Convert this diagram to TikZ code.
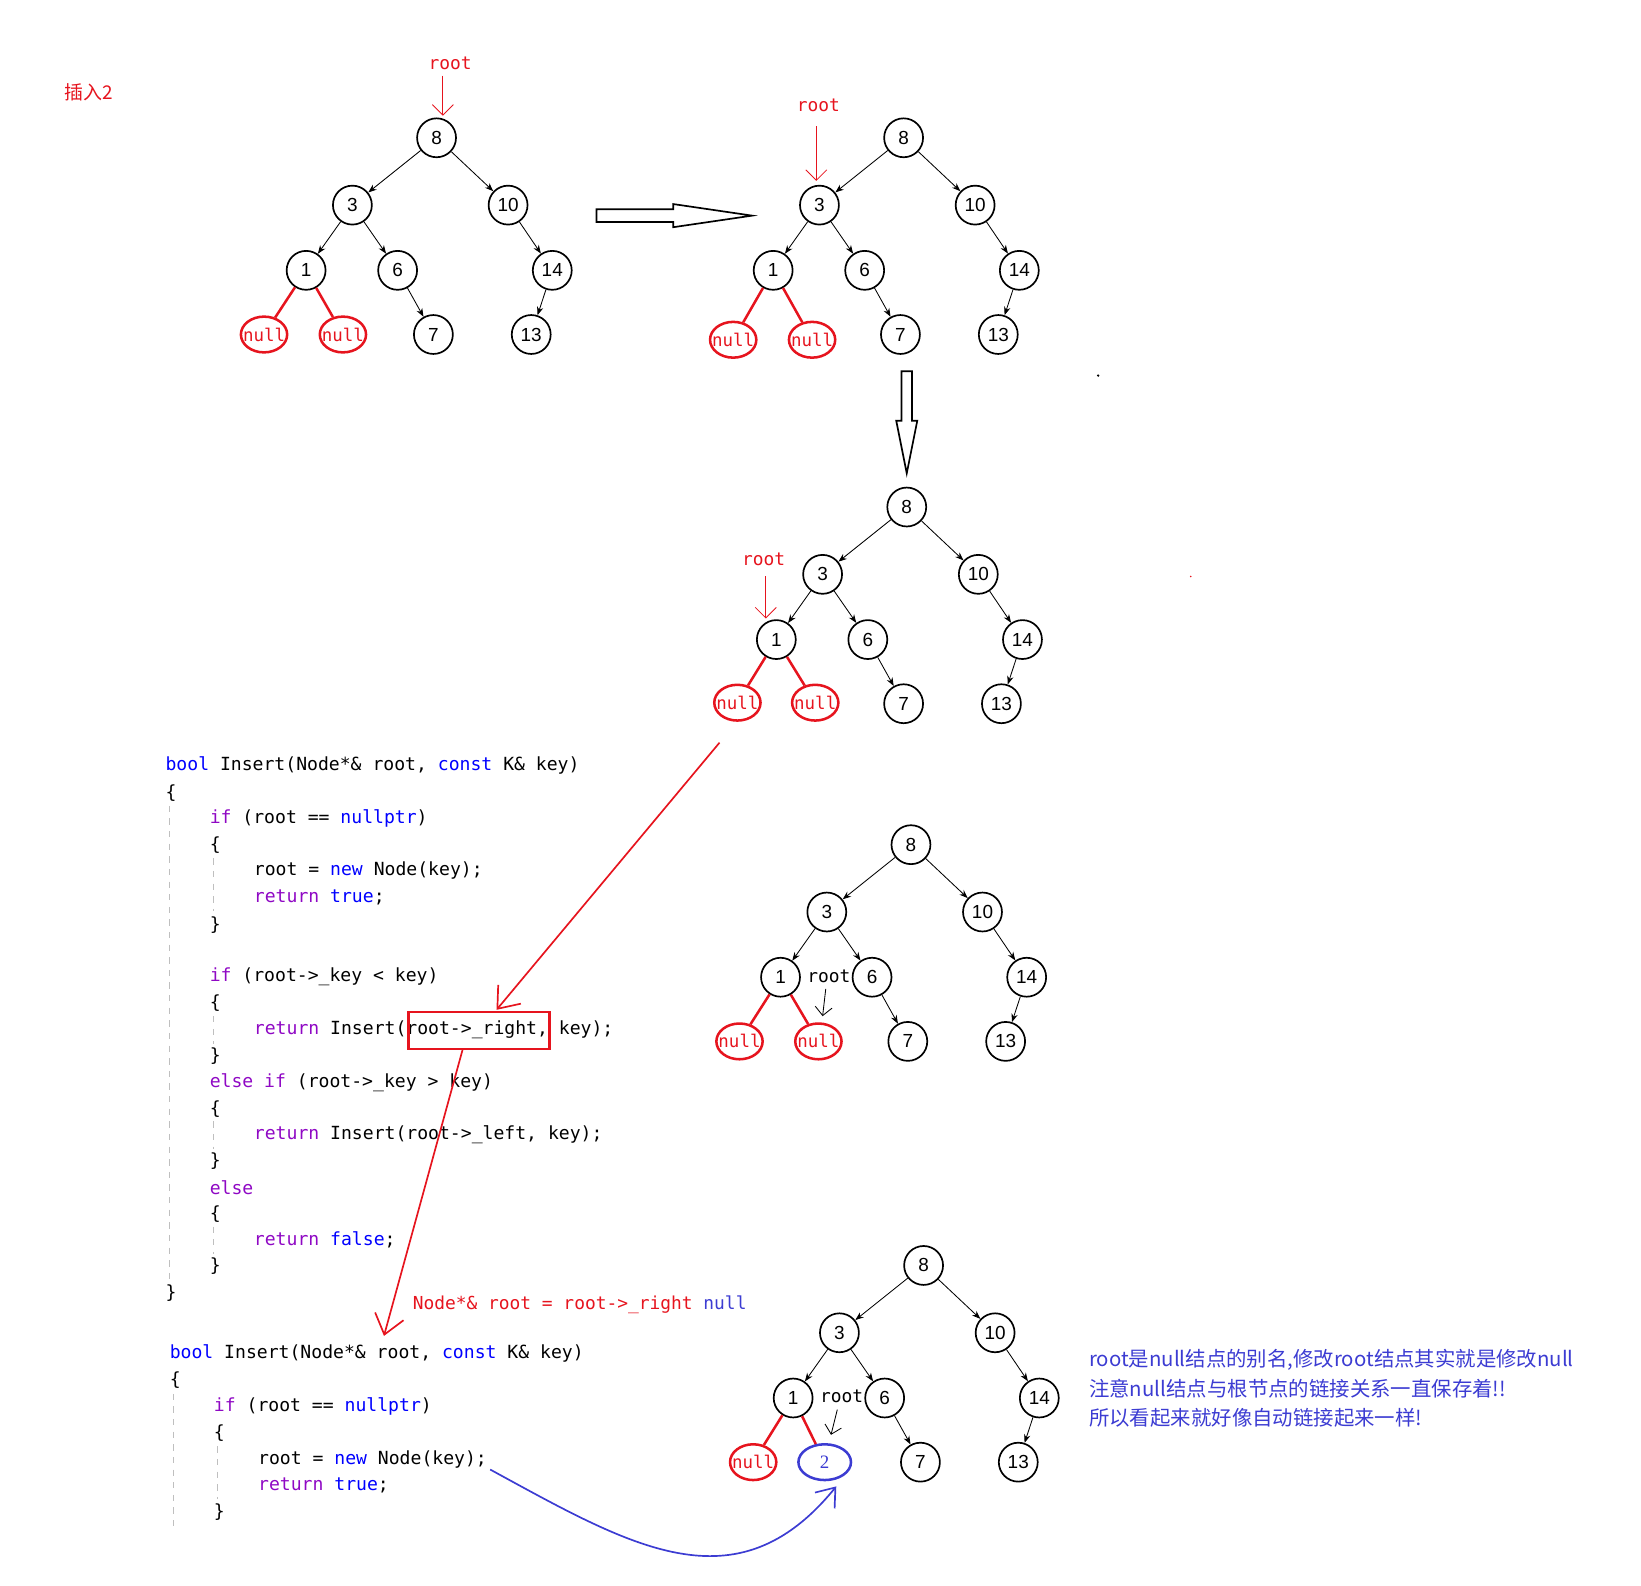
\documentclass[tikz,border=0pt]{standalone}
\usepackage{fontspec}
\setmainfont{Liberation Serif}
\setsansfont{Liberation Sans}
\setmonofont{DejaVu Sans Mono}
\newfontfamily\cjk{Noto Sans CJK SC}
\usetikzlibrary{arrows.meta,shapes.geometric}
\definecolor{kwb}{RGB}{0,0,255}
\definecolor{kwp}{RGB}{143,8,196}
\definecolor{rd}{RGB}{230,20,30}
\definecolor{bl}{RGB}{60,60,210}
\newcommand{\kb}[1]{\textcolor{kwb}{#1}}
\newcommand{\kp}[1]{\textcolor{kwp}{#1}}
\tikzset{x=0.5pt,y=-0.5pt,
 tn/.style={circle,draw,thick,minimum size=18.5pt,inner sep=0pt,font=\sffamily\fontsize{9}{9}\selectfont},
 nl/.style={ellipse,draw=rd,very thick,minimum width=22pt,minimum height=17pt,inner xsep=-4pt,inner ysep=0pt,text=rd,font=\ttfamily\fontsize{8.3}{8.3}\selectfont},
 ed/.style={-{Stealth[length=4pt,width=3pt]}},
 code/.style={anchor=west,inner sep=0pt,font=\ttfamily\fontsize{8.6}{8.6}\selectfont},
 rlab/.style={text=rd,font=\ttfamily\fontsize{8.5}{8.5}\selectfont,inner sep=0pt},
 guide/.style={draw=gray!50,dashed,thin}}
\newcommand{\mytree}[3]{%
 \node[tn] (#1r) at (#2,#3) {8};
 \node[tn] (#1a) at (#2-80,#3+64) {3};
 \node[tn] (#1b) at (#2+68,#3+64) {10};
 \node[tn] (#1c) at (#2-124,#3+126) {1};
 \node[tn] (#1d) at (#2-37,#3+126) {6};
 \node[tn] (#1e) at (#2+110,#3+126) {14};
 \node[tn] (#1g) at (#2-3,#3+187) {7};
 \node[tn] (#1h) at (#2+90,#3+187) {13};
 \draw[ed] (#1r) -- (#1a); \draw[ed] (#1r) -- (#1b);
 \draw[ed] (#1a) -- (#1c); \draw[ed] (#1a) -- (#1d);
 \draw[ed] (#1b) -- (#1e); \draw[ed] (#1d) -- (#1g); \draw[ed] (#1e) -- (#1h);
}
\begin{document}
\begin{tikzpicture}
\useasboundingbox (0,0) rectangle (1560,1507);
\node[text=rd,font=\cjk\fontsize{9}{9}\selectfont] (title) at (84,88) {插入2};
% tree 1
\mytree{A}{415}{131}
\node[nl] (Af) at (251,318) {null}; \node[nl] (Ag) at (326,318) {null};
\draw[rd,very thick] (Ac) -- (Af); \draw[rd,very thick] (Ac) -- (Ag);
\node[rlab] (Al) at (428,60) {root}; \coordinate (As) at (421,72); \coordinate (At) at (421,110);
\draw[rd,-{Straight Barb[length=5pt]}] (As) -- (At);
% tree 2
\mytree{B}{859}{131}
\node[nl] (Bf) at (697,323) {null}; \node[nl] (Bg) at (772,323) {null};
\draw[rd,very thick] (Bc) -- (Bf); \draw[rd,very thick] (Bc) -- (Bg);
\node[rlab] (Bl) at (778,100) {root}; \coordinate (Bs) at (776,120); \coordinate (Bt) at (776,172);
\draw[rd,-{Straight Barb[length=5pt]}] (Bs) -- (Bt);
% tree 3
\mytree{C}{862}{482}
\node[nl] (Cf) at (701,668) {null}; \node[nl] (Cg) at (775,668) {null};
\draw[rd,very thick] (Cc) -- (Cf); \draw[rd,very thick] (Cc) -- (Cg);
\node[rlab] (Cl) at (726,532) {root}; \coordinate (Cs) at (728,548); \coordinate (Ct) at (728,588);
\draw[rd,-{Straight Barb[length=5pt]}] (Cs) -- (Ct);
% tree 4
\mytree{D}{866}{803}
\node[nl] (Df) at (703,990) {null}; \node[nl] (Dg) at (778,990) {null};
\draw[rd,very thick] (Dc) -- (Df); \draw[rd,very thick] (Dc) -- (Dg);
\node[rlab,text=black] (Dl) at (788,928) {root}; \coordinate (Ds) at (785,940); \coordinate (Dt) at (782,966);
\draw[-{Straight Barb[length=4pt]}] (Ds) -- (Dt);
% tree 5
\mytree{E}{878}{1203}
\node[nl] (Ef) at (716,1390) {null};
\node[nl,draw=bl,text=bl,minimum width=25pt,font=\rmfamily\fontsize{9}{9}\selectfont] (Eg) at (784,1390) {2};
\draw[rd,very thick] (Ec) -- (Ef); \draw[rd,very thick] (Ec) -- (Eg);
\node[rlab,text=black] (El) at (800,1327) {root}; \coordinate (Es) at (796,1340); \coordinate (Et) at (790,1364);
\draw[-{Straight Barb[length=4pt]}] (Es) -- (Et);
% hollow arrows
\draw[thick] (567,199) -- (640,199) -- (640,194) -- (715,205) -- (640,216) -- (640,211) -- (567,211) -- cycle;
\draw[thick] (857,353) -- (857,400) -- (852,400) -- (862,450) -- (872,400) -- (867,400) -- (867,353) -- cycle;
\fill (1044,357) circle (1.2); \fill[rd] (1132,548) circle (0.8);
% code block 1
\foreach \yy/\t in {
 728/{\kb{bool} Insert(Node*\& root, \kb{const} K\& key)},
 754/{\{},
 1229/{\}}}{\node[code] at (157,\yy) {\t};}
\foreach \yy/\t in {
 778/{\kp{if} (root == \kb{nullptr})}, 803/{\{}, 879/{\}},
 929/{\kp{if} (root->\_key < key)}, 954/{\{}, 1004/{\}},
 1029/{\kp{else} \kp{if} (root->\_key > key)}, 1054/{\{}, 1104/{\}},
 1129/{\kp{else}}, 1154/{\{}, 1204/{\}}}{\node[code] at (199,\yy) {\t};}
\foreach \yy/\t in {
 828/{root = \kb{new} Node(key);}, 853/{\kp{return} \kb{true};},
 979/{\kp{return} Insert(root->\_right, key);},
 1079/{\kp{return} Insert(root->\_left, key);},
 1179/{\kp{return} \kb{false};}}{\node[code] at (241,\yy) {\t};}
\draw[guide] (161,766) -- (161,1218);
\foreach \a/\b in {816/866,966/992,1066/1092,1166/1192}{\draw[guide] (203,\a) -- (203,\b);}
% code block 2
\node[code] at (161,1287) {\kb{bool} Insert(Node*\& root, \kb{const} K\& key)};
\node[code] at (161,1312) {\{};
\node[code] at (203,1337) {\kp{if} (root == \kb{nullptr})};
\node[code] at (203,1362) {\{};
\node[code] at (245,1387) {root = \kb{new} Node(key);};
\node[code] at (245,1412) {\kp{return} \kb{true};};
\node[code] at (203,1437) {\}};
\draw[guide] (165,1325) -- (165,1455);
\draw[guide] (207,1375) -- (207,1425);
% red annotations
\node[draw=rd,very thick,minimum width=67pt,minimum height=17.5pt,inner sep=0pt] (box) at (455.5,979.5) {};
\coordinate (p1) at (684,706); \coordinate (p2) at (472,960);
\draw[rd,thick,-{Straight Barb[length=9pt,width=14pt]}] (p1) -- (p2);
\coordinate (p3) at (440,997); \coordinate (p4) at (365,1270);
\draw[rd,thick,-{Straight Barb[length=9pt,width=14pt]}] (p3) -- (p4);
\node[rlab,anchor=west] (lab) at (392,1240) {Node*\& root = root->\_right \textcolor{bl}{null}};
% blue curve
\coordinate (q1) at (466,1397); \coordinate (q2) at (795,1413);
\draw[bl,thick,-{Straight Barb[length=8pt,width=12pt]}] (q1) .. controls (600,1470) and (700,1530) .. (q2);
% note
\node[anchor=west,text=bl,inner sep=0pt,align=left,font=\cjk\fontsize{9.7}{14}\selectfont] (note) at (1035,1320)
 {root是null结点的别名,修改root结点其实就是修改null\\注意null结点与根节点的链接关系一直保存着!!\\所以看起来就好像自动链接起来一样!};
\end{tikzpicture}
\end{document}
